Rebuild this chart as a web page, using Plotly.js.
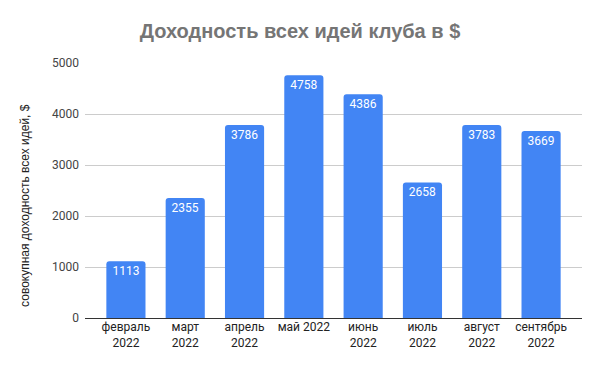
<!DOCTYPE html>
<html>
<head>
<meta charset="utf-8">
<script src="https://cdn.plot.ly/plotly-3.0.1.min.js"></script>
<style>html,body{margin:0;padding:0;background:#fff}#chart{width:600px;height:371px}</style>
</head>
<body>
<div id="chart"></div>
<script>
const categories = ["февраль<br>2022", "март<br>2022", "апрель<br>2022", "май 2022", "июнь<br>2022", "июль<br>2022", "август<br>2022", "сентябрь<br>2022"];
const values = [1113, 2355, 3786, 4758, 4386, 2658, 3783, 3669];
const yTicks = [0, 1000, 2000, 3000, 4000, 5000];
const yTitle = "совокупная доходность всех идей, $";
const chartTitle = "Доходность всех идей клуба в $";

const trace = {
  type: "bar",
  x: categories,
  y: values,
  text: values.map(String),
  textposition: "inside",
  insidetextanchor: "end",
  textangle: 0,
  textfont: {family: "Roboto, sans-serif", size: 12, color: "#ffffff"},
  marker: {color: "#4285F4", cornerradius: 3},
  hoverinfo: "none"
};

const layout = {
  width: 600, height: 371,
  margin: {l: 85, r: 18, t: 63, b: 53},
  paper_bgcolor: "#ffffff", plot_bgcolor: "#ffffff",
  bargap: 0.34,
  showlegend: false,
  title: {
    text: "<b>" + chartTitle + "</b>",
    font: {family: "Liberation Sans, Arial, sans-serif", size: 20, color: "#757575"},
    x: 0.5, xanchor: "center", y: 0.916, yanchor: "middle"
  },
  xaxis: {
    type: "category",
    range: [-0.69, 7.69],
    showgrid: false,
    showline: false,
    zeroline: false,
    ticks: "",
    tickfont: {family: "Roboto, sans-serif", size: 12, color: "#222222"},
    fixedrange: true
  },
  yaxis: {
    range: [0, 5000],
    tickvals: yTicks,
    ticktext: yTicks.map(String),
    showgrid: true,
    gridcolor: "#cccccc",
    gridwidth: 1,
    zeroline: true,
    zerolinecolor: "#333333",
    zerolinewidth: 1,
    showline: false,
    ticks: "",
    ticklabelstandoff: 5,
    tickfont: {family: "Roboto, sans-serif", size: 12, color: "#444444"},
    fixedrange: true
  },
  annotations: [{
    text: yTitle,
    xref: "paper", yref: "paper",
    x: -0.121, y: 0.443,
    xanchor: "center", yanchor: "middle",
    textangle: -90,
    showarrow: false,
    font: {family: "Liberation Sans, Arial, sans-serif", size: 12, color: "#222222"}
  }]
};

Plotly.newPlot("chart", [trace], layout, {displayModeBar: false, staticPlot: true});
</script>
</body>
</html>
